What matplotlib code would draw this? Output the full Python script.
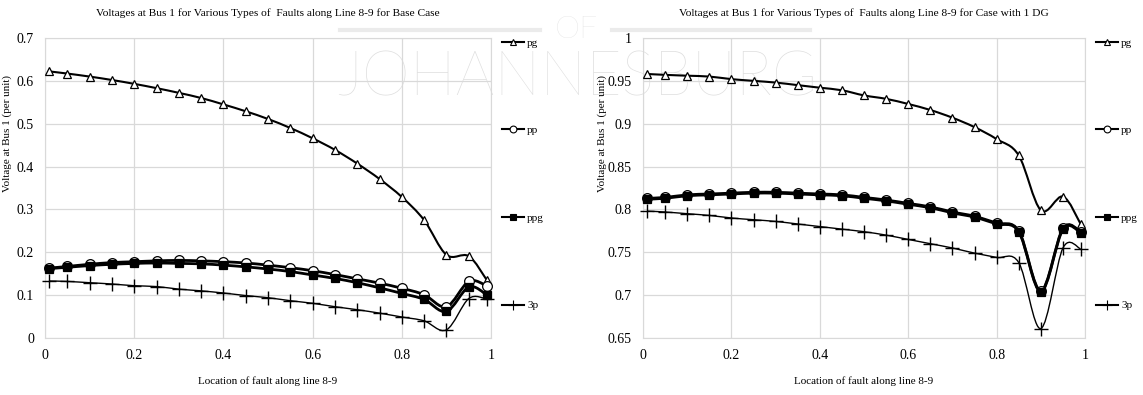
import matplotlib
matplotlib.use('Agg')
import matplotlib.pyplot as plt
from matplotlib.path import Path
from matplotlib.patches import PathPatch
from matplotlib.lines import Line2D

# Localizacao da falta ao longo da linha 8-9
x = [0.01, 0.05, 0.1, 0.15, 0.2, 0.25, 0.3, 0.35, 0.4, 0.45, 0.5,
     0.55, 0.6, 0.65, 0.7, 0.75, 0.8, 0.85, 0.9, 0.95, 0.99]

# Caso base
pg_base = [0.622, 0.617, 0.610, 0.602, 0.593, 0.583, 0.572, 0.560, 0.545, 0.529, 0.511,
           0.490, 0.466, 0.439, 0.407, 0.371, 0.329, 0.275, 0.194, 0.191, 0.136]
pp_base = [0.163, 0.167, 0.172, 0.176, 0.178, 0.180, 0.181, 0.180, 0.178, 0.175, 0.170,
           0.164, 0.157, 0.148, 0.138, 0.128, 0.116, 0.101, 0.073, 0.132, 0.122]
ppg_base = [0.162, 0.165, 0.169, 0.172, 0.174, 0.175, 0.174, 0.173, 0.170, 0.166, 0.161,
            0.155, 0.147, 0.139, 0.129, 0.117, 0.104, 0.090, 0.062, 0.119, 0.101]
p3_base = [0.133, 0.132, 0.129, 0.126, 0.122, 0.120, 0.114, 0.110, 0.105, 0.099, 0.094,
           0.087, 0.081, 0.073, 0.066, 0.058, 0.049, 0.040, 0.019, 0.092, 0.091]

# Caso com 1 DG
pg_dg = [0.958, 0.957, 0.956, 0.955, 0.952, 0.950, 0.948, 0.945, 0.942, 0.939, 0.933,
         0.929, 0.923, 0.916, 0.907, 0.896, 0.882, 0.863, 0.799, 0.815, 0.783]
pp_dg = [0.813, 0.814, 0.817, 0.818, 0.819, 0.820, 0.820, 0.819, 0.818, 0.817, 0.814,
         0.811, 0.807, 0.803, 0.797, 0.792, 0.784, 0.775, 0.705, 0.778, 0.774]
ppg_dg = [0.812, 0.813, 0.816, 0.817, 0.818, 0.819, 0.819, 0.818, 0.817, 0.816, 0.813,
          0.810, 0.806, 0.802, 0.796, 0.791, 0.783, 0.774, 0.704, 0.777, 0.773]
p3_dg = [0.798, 0.797, 0.795, 0.793, 0.790, 0.788, 0.786, 0.783, 0.780, 0.777, 0.774,
         0.770, 0.765, 0.760, 0.755, 0.749, 0.744, 0.738, 0.661, 0.755, 0.754]

labels = ['pg', 'pp', 'ppg', '3p']

plt.rcParams['font.family'] = ['Liberation Serif', 'DejaVu Serif']

estilos = [
    dict(marker='^', markersize=6, markerfacecolor='white', mew=0.9, lw=1.5),
    dict(marker='o', markersize=7, markerfacecolor='white', mew=0.9, lw=2.0),
    dict(marker='s', markersize=6, markerfacecolor='black', mew=0.9, lw=2.0),
    dict(marker='+', markersize=10, markerfacecolor='black', mew=1.0, lw=1.0),
]


def linha_suave(ax, xs, ys, lw):
    # curva suave estilo Excel (Catmull-Rom -> Bezier)
    n = len(xs)
    verts = [(xs[0], ys[0])]
    codes = [Path.MOVETO]
    for i in range(n - 1):
        i0 = max(i - 1, 0)
        i3 = min(i + 2, n - 1)
        c1 = (xs[i] + (xs[i + 1] - xs[i0]) / 6, ys[i] + (ys[i + 1] - ys[i0]) / 6)
        c2 = (xs[i + 1] - (xs[i3] - xs[i]) / 6, ys[i + 1] - (ys[i3] - ys[i]) / 6)
        verts += [c1, c2, (xs[i + 1], ys[i + 1])]
        codes += [Path.CURVE4] * 3
    ax.add_patch(PathPatch(Path(verts, codes), facecolor='none', edgecolor='black', lw=lw, zorder=2))


def grafico(ax, series, titulo, ylim, yticks, ylabels, ylab_x):
    for ys, st in zip(series, estilos):
        linha_suave(ax, x, ys, st['lw'])
        ax.plot(x, ys, linestyle='none', marker=st['marker'], markersize=st['markersize'],
                markerfacecolor=st['markerfacecolor'], markeredgecolor='black',
                markeredgewidth=st['mew'], zorder=3, clip_on=False)
    ax.set_xlim(0, 1)
    ax.set_ylim(*ylim)
    ax.set_xticks([0, 0.2, 0.4, 0.6, 0.8, 1])
    ax.set_xticklabels(['0', '0.2', '0.4', '0.6', '0.8', '1'])
    ax.set_yticks(yticks)
    ax.set_yticklabels(ylabels)
    ax.tick_params(length=0, labelsize=10, pad=8)
    ax.grid(True, color='#d9d9d9', lw=0.9)
    ax.set_axisbelow(True)
    for s in ax.spines.values():
        s.set_color('#d9d9d9')
    ax.set_facecolor('none')
    ax.set_title(titulo, fontsize=8.2, pad=16)
    ax.set_xlabel('Location of fault along line 8-9', fontsize=8, labelpad=10)
    ax.set_ylabel('Voltage at Bus 1 (per unit)', fontsize=8)
    ax.yaxis.set_label_coords(ylab_x, 0.68)

    handles = [Line2D([], [], color='black', lw=1.5, marker=st['marker'],
                      markersize=st['markersize'] * 0.7, markerfacecolor=st['markerfacecolor'],
                      markeredgecolor='black', markeredgewidth=0.8) for st in estilos]
    ax.legend(handles, labels, loc='upper left', bbox_to_anchor=(1.025, 1.0),
              frameon=False, fontsize=8, labelspacing=7.0, handlelength=2.0,
              handletextpad=0.25, borderpad=0, borderaxespad=0)


fig = plt.figure(figsize=(11.43, 3.95), dpi=100)

# marca d'agua
fig.text(0.505, 0.802, 'JOHANNESBURG', fontsize=44, color='#dedede', family='Lato',
         fontweight='light', ha='center', va='center', zorder=-5)
fig.text(0.5045, 0.925, 'OF', fontsize=23, color='#dedede', family='Lato',
         fontweight='light', ha='center', va='center', zorder=-5)
fig.add_artist(Line2D([340 / 1143, 540 / 1143], [0.924, 0.924], color='#ebebeb', lw=3, zorder=-5))
fig.add_artist(Line2D([612 / 1143, 810 / 1143], [0.924, 0.924], color='#ebebeb', lw=3, zorder=-5))

ax1 = fig.add_axes([0.0394, 0.1443, 0.3902, 0.7595])
ax2 = fig.add_axes([0.5626, 0.1443, 0.3867, 0.7595])

grafico(ax1, [pg_base, pp_base, ppg_base, p3_base],
        'Voltages at Bus 1 for Various Types of  Faults along Line 8-9 for Base Case',
        (0, 0.7), [0, 0.1, 0.2, 0.3, 0.4, 0.5, 0.6, 0.7],
        ['0', '0.1', '0.2', '0.3', '0.4', '0.5', '0.6', '0.7'], -0.074)
grafico(ax2, [pg_dg, pp_dg, ppg_dg, p3_dg],
        'Voltages at Bus 1 for Various Types of  Faults along Line 8-9 for Case with 1 DG',
        (0.65, 1), [0.65, 0.7, 0.75, 0.8, 0.85, 0.9, 0.95, 1],
        ['0.65', '0.7', '0.75', '0.8', '0.85', '0.9', '0.95', '1'], -0.081)

fig.savefig('out.png', dpi=100)
